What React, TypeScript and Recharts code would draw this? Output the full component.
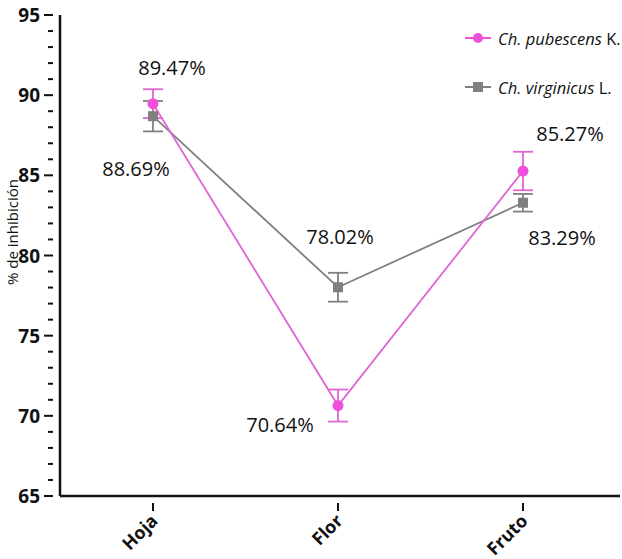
import React from 'react';
import { LineChart, Line, XAxis, YAxis, ErrorBar, LabelList } from 'recharts';

const categories = ['Hoja', 'Flor', 'Fruto'];
const pubescens = [89.47, 70.64, 85.27];
const pubescensErr = [0.9, 1.0, 1.2];
const virginicus = [88.69, 78.02, 83.29];
const virginicusErr = [0.95, 0.9, 0.55];
const yTicks = [65, 66, 67, 68, 69, 70, 71, 72, 73, 74, 75, 76, 77, 78, 79, 80, 81, 82, 83, 84, 85, 86, 87, 88, 89, 90, 91, 92, 93, 94, 95];

const data = categories.map((name, i) => ({
    name,
    pub: pubescens[i],
    pubErr: pubescensErr[i],
    vir: virginicus[i],
    virErr: virginicusErr[i],
}));

const PINK = '#f04fdc';
const PINK_LINE = '#e066d4';
const GRAY = '#808080';
const FONT = '"Open Sans", "Liberation Sans", sans-serif';

// label placement offsets (layout only)
const pubLabelOffset = [[19, -36], [-58, 19], [47, -38]];
const virLabelOffset = [[-17, 52], [2, -51], [39, 35]];

const makeLabel = (offsets: number[][]) => (props: any) => {
    const { x, y, value, index } = props;
    const [dx, dy] = offsets[index];
    return (
        <text x={x + dx} y={y + dy} textAnchor="middle" dominantBaseline="central"
            fontFamily={FONT} fontSize={20} fill="#111">
            {value.toFixed(2)}%
        </text>
    );
};

const YTick = (props: any) => {
    const { x, y, payload } = props;
    const major = payload.value % 5 === 0;
    return (
        <g>
            <line x1={x - (major ? 8 : 4)} x2={x + 1} y1={y} y2={y} stroke="#111" strokeWidth={2} />
            {major && (
                <text x={x - 12} y={y} textAnchor="end" dominantBaseline="central"
                    fontFamily={FONT} fontWeight="bold" fontSize={19} fill="#111">
                    {payload.value}
                </text>
            )}
        </g>
    );
};

const XTick = (props: any) => {
    const { x, y, payload } = props;
    return (
        <g>
            <line x1={x} x2={x} y1={y - 1} y2={y + 7} stroke="#111" strokeWidth={2} />
            <text x={x + 6} y={y + 18} textAnchor="end" transform={`rotate(-45, ${x + 6}, ${y + 18})`}
                fontFamily={FONT} fontWeight="bold" fontSize={18} fill="#111">
                {payload.value}
            </text>
        </g>
    );
};

const SquareDot = (props: any) => {
    const { cx, cy } = props;
    return <rect x={cx - 5} y={cy - 5} width={10} height={10} fill={GRAY} />;
};

const CircleDot = (props: any) => {
    const { cx, cy } = props;
    return <circle cx={cx} cy={cy} r={5.5} fill={PINK} />;
};

const LegendBox = () => (
    <div style={{ position: 'absolute', left: 463, top: 26, fontFamily: FONT, fontSize: 16.5, color: '#111' }}>
        <div style={{ display: 'flex', alignItems: 'center', height: 24, marginBottom: 25 }}>
            <svg width={30} height={14} style={{ marginRight: 5 }}>
                <line x1={2} x2={28} y1={7} y2={7} stroke={PINK} strokeWidth={2} />
                <circle cx={15} cy={7} r={5} fill={PINK} />
            </svg>
            <span><i>Ch. pubescens</i> K.</span>
        </div>
        <div style={{ display: 'flex', alignItems: 'center', height: 24 }}>
            <svg width={30} height={14} style={{ marginRight: 5 }}>
                <line x1={2} x2={28} y1={7} y2={7} stroke={GRAY} strokeWidth={2} />
                <rect x={10} y={2} width={10} height={10} fill={GRAY} />
            </svg>
            <span><i>Ch. virginicus</i> L.</span>
        </div>
    </div>
);

export default function App() {
    return (
        <div style={{ position: 'absolute', left: 0, top: 0, width: 622, height: 559, background: '#fff' }}>
            <LineChart width={622} height={559} data={data}
                margin={{ top: 15, right: 2, left: 30, bottom: 0 }}>
                <XAxis dataKey="name" tick={<XTick />} tickLine={false}
                    axisLine={{ stroke: '#111', strokeWidth: 2.5 }}
                    padding={{ left: 93, right: 97 }} height={63} interval={0} />
                <YAxis domain={[65, 95]} ticks={yTicks} tick={<YTick />} tickLine={false}
                    axisLine={{ stroke: '#111', strokeWidth: 2.5 }} width={30} interval={0}
                    allowDataOverflow />
                <Line dataKey="vir" stroke={GRAY} strokeWidth={1.8} dot={<SquareDot />}
                    activeDot={false} isAnimationActive={false}>
                    <ErrorBar dataKey="virErr" width={10} stroke={GRAY} strokeWidth={1.8} />
                    <LabelList dataKey="vir" content={makeLabel(virLabelOffset)} />
                </Line>
                <Line dataKey="pub" stroke={PINK_LINE} strokeWidth={1.8} dot={<CircleDot />}
                    activeDot={false} isAnimationActive={false}>
                    <ErrorBar dataKey="pubErr" width={10} stroke={PINK_LINE} strokeWidth={1.8} />
                    <LabelList dataKey="pub" content={makeLabel(pubLabelOffset)} />
                </Line>
            </LineChart>
            <LegendBox />
            <div style={{
                position: 'absolute', left: 12, top: 232, transform: 'translate(-50%, -50%) rotate(-90deg)',
                fontFamily: FONT, fontSize: 15, color: '#111', whiteSpace: 'nowrap',
            }}>
                % de inhibición
            </div>
        </div>
    );
}
